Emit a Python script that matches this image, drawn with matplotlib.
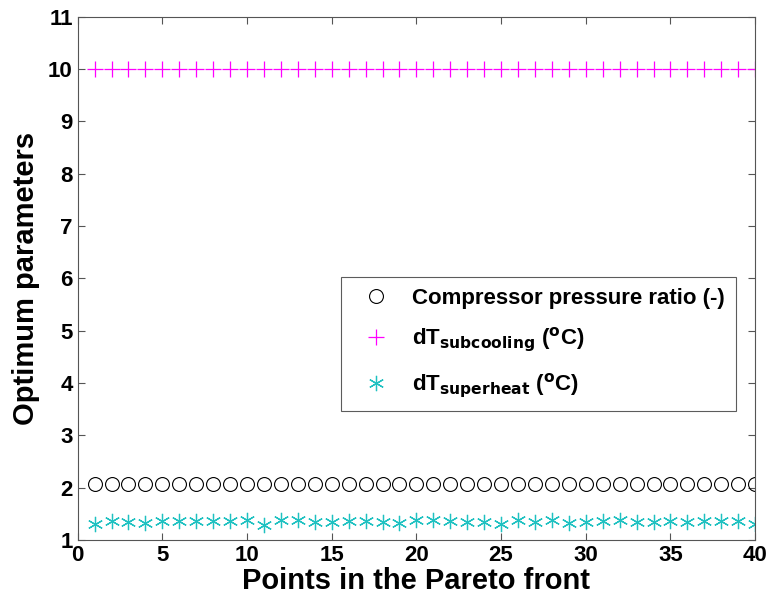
import matplotlib
matplotlib.use('Agg')
from matplotlib import pyplot as plt
import numpy as np

plt.rcParams['font.family'] = ['Liberation Sans', 'DejaVu Sans']
plt.rcParams['font.weight'] = 'bold'
plt.rcParams['mathtext.default'] = 'bf'

points = np.arange(1, 41)
pressure_ratio = [2.07] * 40
dt_subcooling = [10.0] * 40
dt_superheat = [1.31, 1.37, 1.35, 1.32, 1.37, 1.36, 1.37, 1.36, 1.36, 1.38,
                1.28, 1.38, 1.38, 1.34, 1.34, 1.37, 1.37, 1.35, 1.32, 1.38,
                1.38, 1.37, 1.34, 1.34, 1.31, 1.38, 1.35, 1.38, 1.32, 1.34,
                1.37, 1.38, 1.34, 1.34, 1.37, 1.35, 1.37, 1.37, 1.37, 1.31]

fig = plt.figure(figsize=(7.69, 6), dpi=100)
ax = fig.add_axes([0.101, 0.1, 0.881, 0.872])

ax.plot(points, pressure_ratio, 'o', mfc='none', mec='black', ms=10, mew=0.8,
        label='Compressor pressure ratio (-)')
ax.plot(points, dt_subcooling, '+', color='#ff00ff', ms=12, mew=0.9,
        label=r'dT$_{\mathbf{subcooling}}$ ($^{\mathbf{o}}$C)')
ax.plot(points, dt_superheat, ls='none', marker=(6, 2, 0), color='#1fc1c1', ms=11, mew=0.9,
        label=r'dT$_{\mathbf{superheat}}$ ($^{\mathbf{o}}$C)')

ax.set_xlim(0, 40)
ax.set_ylim(1, 11)
ax.set_xticks(range(0, 41, 5))
ax.set_yticks(range(1, 12))
ax.tick_params(direction='in', top=True, right=True, labelsize=16, length=5, color='#555555')
for s in ax.spines.values():
    s.set_color('#555555')
ax.set_xlabel('Points in the Pareto front', fontsize=21, fontweight='bold', labelpad=1)
ax.set_ylabel('Optimum parameters', fontsize=21, fontweight='bold', labelpad=6)

leg = ax.legend(loc='upper left', bbox_to_anchor=(0.388, 0.503), bbox_transform=ax.transAxes,
                fontsize=16, frameon=True, fancybox=False, edgecolor='#333333',
                borderaxespad=0, handlelength=2.2, borderpad=0.5, labelspacing=0.75,
                handletextpad=0.5)
leg.get_frame().set_linewidth(0.8)

fig.savefig('out.png', dpi=100)
